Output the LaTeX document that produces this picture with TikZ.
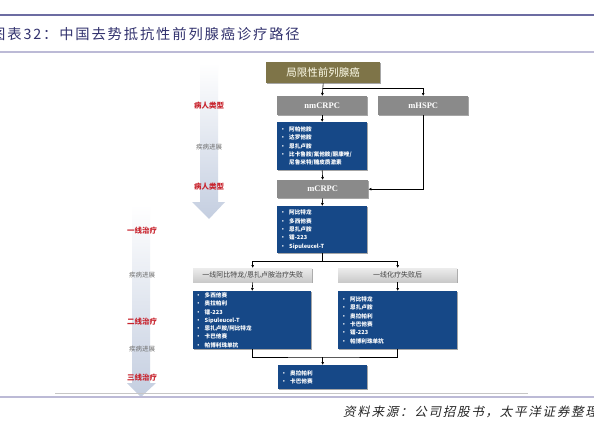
\documentclass[tikz,border=0pt]{standalone}
\usepackage{fontspec}
\setmainfont{Liberation Serif}
\newfontfamily\cjk{Noto Sans CJK SC}
\newfontfamily\cjktitle[LetterSpace=13]{Noto Sans CJK SC}
\newfontfamily\cjkit[FakeSlant=0.22,LetterSpace=14]{Noto Sans CJK SC}
\usetikzlibrary{arrows.meta,shadows}
\definecolor{boxblue}{RGB}{22,72,135}
\definecolor{olive}{RGB}{126,116,72}
\definecolor{midgray}{RGB}{138,138,138}
\definecolor{titleblue}{RGB}{50,50,110}
\definecolor{topline}{RGB}{108,108,162}
\definecolor{lavline}{RGB}{188,186,214}
\definecolor{labred}{RGB}{200,35,45}
\definecolor{labgray}{RGB}{110,110,110}
\definecolor{arrowblue}{RGB}{196,206,224}
\newcommand\bul{\makebox[9pt][l]{•}}
\newcommand\ind{\hspace*{9pt}}
\begin{document}
\begin{tikzpicture}[x=1pt,y=-1pt,
  shd/.style={drop shadow={shadow xshift=1.2pt,shadow yshift=-1.2pt,opacity=0.35,fill=black}},
  olivebox/.style={fill=olive,text=white!92!yellow,anchor=north west,inner sep=0pt,shd,
    font=\cjk\fontsize{10.5}{12}\selectfont},
  graybox/.style={fill=midgray,text=white,anchor=north west,inner sep=0pt,shd,
    font=\fontsize{8.5}{10}\selectfont\bfseries},
  failbox/.style={top color=gray!15,bottom color=gray!42,draw=none,text=black!75,anchor=north west,inner sep=0pt,shd,
    font=\cjk\fontsize{7}{8}\selectfont},
  bluebox/.style={fill=boxblue,text=white,anchor=north west,inner xsep=3pt,inner ysep=0pt,align=left,shd,
    font=\cjk\fontsize{5.6}{8.3}\selectfont\bfseries},
  redlab/.style={text=labred,font=\cjk\fontsize{7.5}{9}\selectfont\bfseries,inner sep=0pt},
  graylab/.style={text=labgray,font=\cjk\fontsize{6.5}{8}\selectfont,inner sep=0pt},
  conn/.style={draw=black,line width=0.6pt},
  arr/.style={conn,-{Latex[length=3pt,width=3pt]}},
  bigarrow/.style={top color=white,bottom color=arrowblue,draw=none}
]
\useasboundingbox (0,0) rectangle (594,428);
\fill[white] (0,0) rectangle (594,428);

% header lines and title
\draw[topline,line width=2.2pt] (0,15) -- (594,15);
\draw[lavline,line width=1.4pt] (0,52) -- (594,52);
\node[anchor=base west,inner sep=0pt,text=titleblue,font=\cjktitle\fontsize{14.3}{16}\selectfont] (title) at (-9,40) {图表32：中国去势抵抗性前列腺癌诊疗路径};

% big gradient arrows
\path[bigarrow] (200,63) -- (218,63) -- (218,202) -- (225,202) -- (209,219) -- (192,202) -- (200,202) -- cycle;
\path[bigarrow] (132,205) -- (150,205) -- (150,383) -- (156,383) -- (141,397) -- (127,383) -- (132,383) -- cycle;

% left labels
\node[redlab] (l1) at (209,106) {病人类型};
\node[graylab] (l2) at (209,147) {疾病进展};
\node[redlab] (l3) at (209,187) {病人类型};
\node[redlab] (l4) at (142,231) {一线治疗};
\node[graylab] (l5) at (142,275) {疾病进展};
\node[redlab] (l6) at (142,322) {二线治疗};
\node[graylab] (l7) at (142,349) {疾病进展};
\node[redlab] (l8) at (142,378) {三线治疗};

% boxes
\node[olivebox,minimum width=114pt,minimum height=21pt] (top) at (266,62) {局限性前列腺癌};
\node[graybox,minimum width=90pt,minimum height=19pt] (nm) at (277,96) {nmCRPC};
\node[graybox,minimum width=90pt,minimum height=19pt] (mh) at (378,96) {mHSPC};
\node[bluebox,text width=84pt,minimum height=48pt] (b1) at (277,122)
 {\bul 阿帕他胺\\\bul 达罗他胺\\\bul 恩扎卢胺\\\bul 比卡鲁胺/氟他胺/酮康唑/\\\ind 尼鲁米特/糖皮质激素};
\node[graybox,minimum width=91pt,minimum height=18pt] (mc) at (277,180) {mCRPC};
\node[bluebox,text width=84pt,minimum height=47pt] (b2) at (277,206)
 {\bul 阿比特龙\\\bul 多西他赛\\\bul 恩扎卢胺\\\bul 镭-223\\\bul Sipuleucel-T};
\node[failbox,minimum width=119pt,minimum height=14pt] (f1) at (193,268) {一线阿比特龙/恩扎卢胺治疗失败};
\node[failbox,minimum width=119pt,minimum height=14pt] (f2) at (338,268) {一线化疗失败后};
\node[bluebox,text width=113pt,minimum height=58pt,inner xsep=2.5pt] (b3) at (193,291)
 {\bul 多西他赛\\\bul 奥拉帕利\\\bul 镭-223\\\bul Sipuleucel-T\\\bul 恩扎卢胺/阿比特龙\\\bul 卡巴他赛\\\bul 帕博利珠单抗};
\node[bluebox,text width=113pt,minimum height=58pt] (b4) at (338,291)
 {\bul 阿比特龙\\\bul 恩扎卢胺\\\bul 奥拉帕利\\\bul 卡巴他赛\\\bul 镭-223\\\bul 帕博利珠单抗};
\node[bluebox,text width=83pt,minimum height=24pt] (b5) at (278,365)
 {\bul 奥拉帕利\\\bul 卡巴他赛};

% connectors
\coordinate (j1) at (top.south |- 0,88);
\draw[arr] (top.south) -- (nm.north);
\draw[arr] (j1) -| (mh.north);
\draw[arr] (nm.south) -- (b1.north);
\draw[arr] (b1.south) -- (mc.north);
\draw[arr] (mh.south) |- (mc.east);
\draw[arr] (mc.south) -- (b2.north);
\coordinate (j2) at (b2.south |- 0,261);
\draw[conn] (b2.south) -- (j2);
\draw[arr] (j2) -| (f1.north);
\draw[arr] (j2) -| (f2.north);
\draw[arr] (f1.south) -- (b3.north);
\draw[arr] (f2.south) -- (b4.north);
\coordinate (j3) at (b5.north |- 0,357);
\draw[conn] (b3.south) |- (j3) -| (b4.south);
\draw[arr] (j3) -- (b5.north);

% footer
\draw[gray!45,line width=0.6pt] (55,393) -- (528,393);
\draw[lavline,line width=1.2pt] (0,397) -- (594,397);
\node[anchor=base west,inner sep=0pt,text=black!85,font=\cjkit\fontsize{12.5}{14}\selectfont] (src) at (343,416) {资料来源：公司招股书，太平洋证券整理};
\end{tikzpicture}
\end{document}
